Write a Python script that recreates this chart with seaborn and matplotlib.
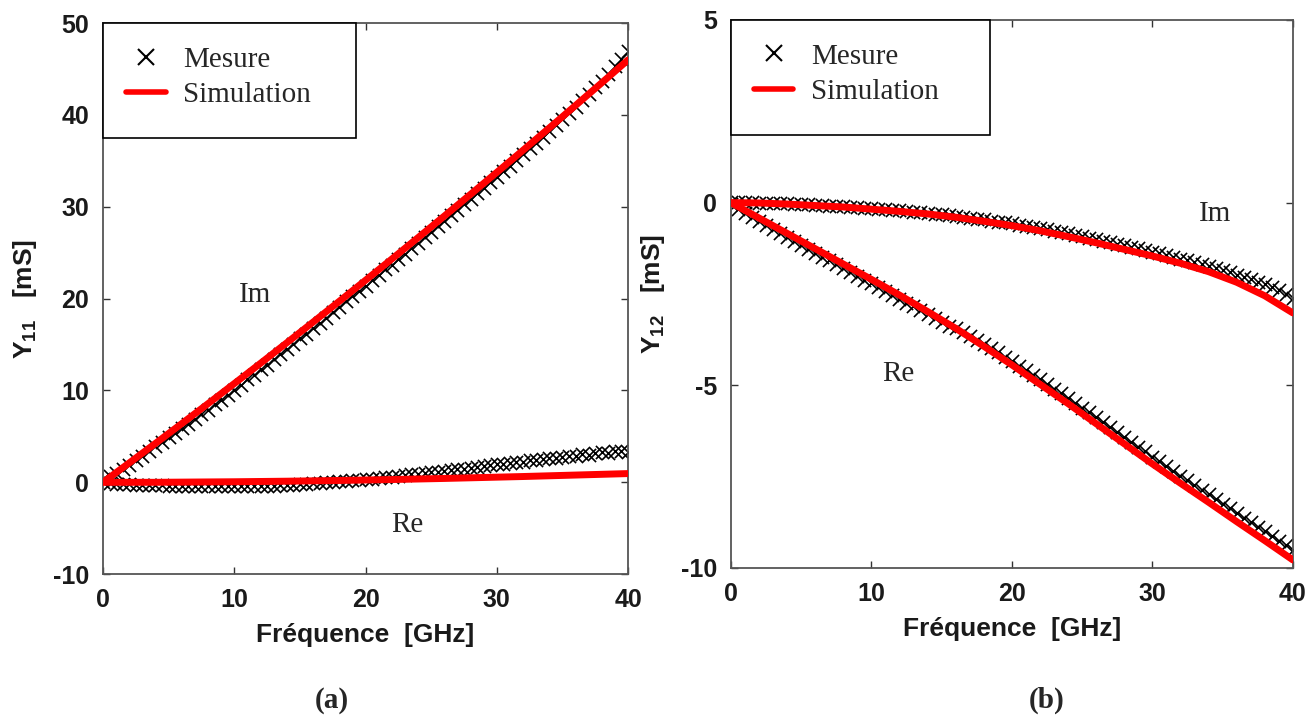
import numpy as np
import pandas as pd
import matplotlib
matplotlib.use('Agg')
import matplotlib.pyplot as plt
import seaborn as sns
from matplotlib.lines import Line2D
from matplotlib.patches import Rectangle

# frequency sweep of the measurement (GHz) and of the simulation
freq_meas = np.linspace(0, 40, 81)
freq_sim = np.linspace(0, 40, 21)

# Y11 [mS]
y11_im_meas = [0.4, 0.7, 1.0, 1.4, 1.9, 2.4, 2.9, 3.4, 3.9, 4.4, 4.9, 5.4, 5.9, 6.4, 6.9, 7.4,
               7.9, 8.5, 9.0, 9.5, 10.1, 10.6, 11.2, 11.7, 12.3, 12.8, 13.4, 14.0, 14.5, 15.1,
               15.7, 16.2, 16.8, 17.4, 17.9, 18.5, 19.1, 19.7, 20.3, 20.8, 21.4, 22.0, 22.6,
               23.2, 23.7, 24.3, 24.9, 25.5, 26.1, 26.7, 27.3, 27.9, 28.5, 29.1, 29.7, 30.3,
               30.9, 31.5, 32.1, 32.7, 33.3, 33.9, 34.5, 35.1, 35.8, 36.4, 37.0, 37.6, 38.3,
               38.9, 39.6, 40.2, 40.9, 41.6, 42.3, 43.0, 43.7, 44.5, 45.3, 46.1, 47.0]
y11_re_meas = [0.0, -0.1, -0.15, -0.2, -0.2, -0.25, -0.25, -0.3, -0.3, -0.3, -0.35, -0.35, -0.4,
               -0.4, -0.4, -0.45, -0.45, -0.45, -0.45, -0.45, -0.45, -0.4, -0.45, -0.4, -0.4,
               -0.35, -0.35, -0.3, -0.3, -0.25, -0.2, -0.2, -0.1, -0.05, 0.0, 0.05, 0.1, 0.15,
               0.2, 0.3, 0.35, 0.4, 0.5, 0.55, 0.6, 0.7, 0.75, 0.85, 0.9, 1.0, 1.1, 1.15, 1.25,
               1.3, 1.45, 1.5, 1.6, 1.65, 1.8, 1.85, 1.95, 2.0, 2.1, 2.2, 2.25, 2.4, 2.45, 2.5,
               2.65, 2.6, 2.8, 2.85, 2.9, 3.05, 3.0, 3.2, 3.3, 3.2, 3.45, 3.4, 3.3]
y11_im_sim = [0.0, 2.11, 4.24, 6.39, 8.56, 10.75, 12.96, 15.19, 17.44, 19.71, 22.0, 24.31,
              26.64, 28.99, 31.36, 33.75, 36.16, 38.59, 41.04, 43.51, 46.0]
y11_re_sim = [0.0, 0.0, 0.0, 0.02, 0.04, 0.06, 0.09, 0.12, 0.16, 0.2, 0.25, 0.3, 0.36, 0.42,
              0.49, 0.56, 0.63, 0.71, 0.79, 0.87, 0.95]

# Y12 [mS]
y12_im_meas = [0.02, 0.02, 0.01, 0.01, 0.0, 0.0, -0.01, -0.02, -0.02, -0.03, -0.04, -0.05, -0.06,
               -0.07, -0.08, -0.09, -0.1, -0.11, -0.13, -0.14, -0.15, -0.17, -0.18, -0.2, -0.21,
               -0.23, -0.25, -0.26, -0.28, -0.3, -0.32, -0.34, -0.37, -0.39, -0.41, -0.44, -0.46,
               -0.49, -0.52, -0.54, -0.57, -0.6, -0.64, -0.67, -0.7, -0.73, -0.77, -0.8, -0.84,
               -0.88, -0.92, -0.96, -1.0, -1.04, -1.08, -1.12, -1.16, -1.21, -1.25, -1.3, -1.34,
               -1.39, -1.44, -1.48, -1.53, -1.58, -1.63, -1.69, -1.74, -1.8, -1.85, -1.91, -1.97,
               -2.04, -2.1, -2.17, -2.24, -2.32, -2.4, -2.5, -2.6]
y12_re_meas = [-0.05, -0.17, -0.28, -0.4, -0.51, -0.62, -0.73, -0.84, -0.95, -1.06, -1.16, -1.27,
               -1.37, -1.48, -1.58, -1.69, -1.79, -1.9, -2.0, -2.11, -2.21, -2.31, -2.42, -2.52,
               -2.63, -2.74, -2.84, -2.95, -3.06, -3.17, -3.28, -3.38, -3.44, -3.53, -3.64, -3.75,
               -3.86, -3.98, -4.1, -4.22, -4.34, -4.46, -4.58, -4.71, -4.84, -4.96, -5.09, -5.22,
               -5.35, -5.48, -5.61, -5.74, -5.88, -6.01, -6.14, -6.28, -6.41, -6.55, -6.68, -6.81,
               -6.95, -7.08, -7.21, -7.34, -7.47, -7.6, -7.73, -7.86, -7.98, -8.11, -8.24, -8.37,
               -8.5, -8.62, -8.75, -8.88, -9.0, -9.13, -9.26, -9.38, -9.5]
y12_im_sim = [0.0, -0.01, -0.04, -0.08, -0.12, -0.18, -0.24, -0.31, -0.4, -0.51, -0.63, -0.77,
              -0.93, -1.1, -1.28, -1.46, -1.66, -1.89, -2.18, -2.55, -3.02]
y12_re_sim = [0.0, -0.42, -0.84, -1.26, -1.68, -2.1, -2.53, -2.98, -3.44, -3.93, -4.44, -4.97,
              -5.5, -6.05, -6.6, -7.15, -7.68, -8.2, -8.73, -9.25, -9.78]

sns.set_style('ticks')
plt.rcParams['font.family'] = ['Liberation Sans', 'DejaVu Sans']
plt.rcParams['mathtext.fontset'] = 'custom'
plt.rcParams['mathtext.bf'] = 'Liberation Sans:bold'
plt.rcParams['mathtext.rm'] = 'Liberation Sans:bold'
plt.rcParams['axes.unicode_minus'] = False

serif = ['Liberation Serif', 'DejaVu Serif']

fig = plt.figure(figsize=(13.12, 7.24), dpi=100)
ax1 = fig.add_axes([0.0785, 0.207, 0.4002, 0.761])
ax2 = fig.add_axes([0.557, 0.2155, 0.4284, 0.757])

panels = [
    (ax1, [y11_im_meas, y11_re_meas], [y11_im_sim, y11_re_sim], (-10, 50), [50, 40, 30, 20, 10, 0, -10],
     r'$\mathbf{Y}_{\mathbf{11}}$   [mS]', [('Im', 11.6, 20.4), ('Re', 23.2, -4.7)], 0.482, 0.791),
    (ax2, [y12_im_meas, y12_re_meas], [y12_im_sim, y12_re_sim], (-10, 5), [5, 0, -5, -10],
     r'$\mathbf{Y}_{\mathbf{12}}$   [mS]', [('Im', 34.5, -0.3), ('Re', 11.9, -4.7)], 0.461, 0.79),
]

for ax, meas, sims, ylim, yticks, ylab, notes, bw, bb in panels:
    for m in meas:
        sns.scatterplot(x=freq_meas, y=m, ax=ax, marker='x', color='black', s=90,
                        linewidth=1.2, zorder=2)
    for s in sims:
        sns.lineplot(x=freq_sim, y=s, ax=ax, color='red', linewidth=5, zorder=3)
    ax.set_xlim(0, 40)
    ax.set_ylim(*ylim)
    ax.set_xticks([0, 10, 20, 30, 40])
    ax.set_yticks(yticks)
    ax.tick_params(direction='in', length=5, width=1, top=True, right=True,
                   labelsize=18, colors='#333333', pad=10)
    for lbl in ax.get_xticklabels() + ax.get_yticklabels():
        lbl.set_fontweight('bold')
        lbl.set_color('#1a1a1a')
    for sp in ax.spines.values():
        sp.set_visible(True)
        sp.set_color('#555555')
        sp.set_linewidth(1.3)
    ax.set_xlabel('Fréquence  [GHz]', fontsize=19, fontweight='bold', color='#1a1a1a', labelpad=8)
    ax.set_ylabel(ylab, fontsize=19, fontweight='bold', color='#1a1a1a', labelpad=10)
    for txt, xx, yy in notes:
        ax.text(xx, yy, txt, fontsize=21, family=serif, ha='center', va='center')

    # legend box
    ax.add_patch(Rectangle((0, bb), bw, 1 - bb, transform=ax.transAxes, fill=True,
                           facecolor='white', edgecolor='black', linewidth=1.2, zorder=5,
                           clip_on=False))
    handles = [Line2D([], [], color='black', marker='x', linestyle='none', markersize=12, mew=1.5),
               Line2D([], [], color='red', linewidth=4)]
    leg = ax.legend(handles, ['Mesure', 'Simulation'], loc='upper left', bbox_to_anchor=(0.0, 1.0),
                    frameon=False, borderaxespad=0.4, handlelength=1.35, handletextpad=0.6,
                    labelspacing=0.3, prop={'family': serif, 'size': 21})
    leg.set_zorder(6)

fig.text(0.253, 0.033, '(a)', fontsize=21, fontweight='bold', family=serif, ha='center', va='center')
fig.text(0.798, 0.033, '(b)', fontsize=21, fontweight='bold', family=serif, ha='center', va='center')

fig.savefig('out.png', dpi=100)
